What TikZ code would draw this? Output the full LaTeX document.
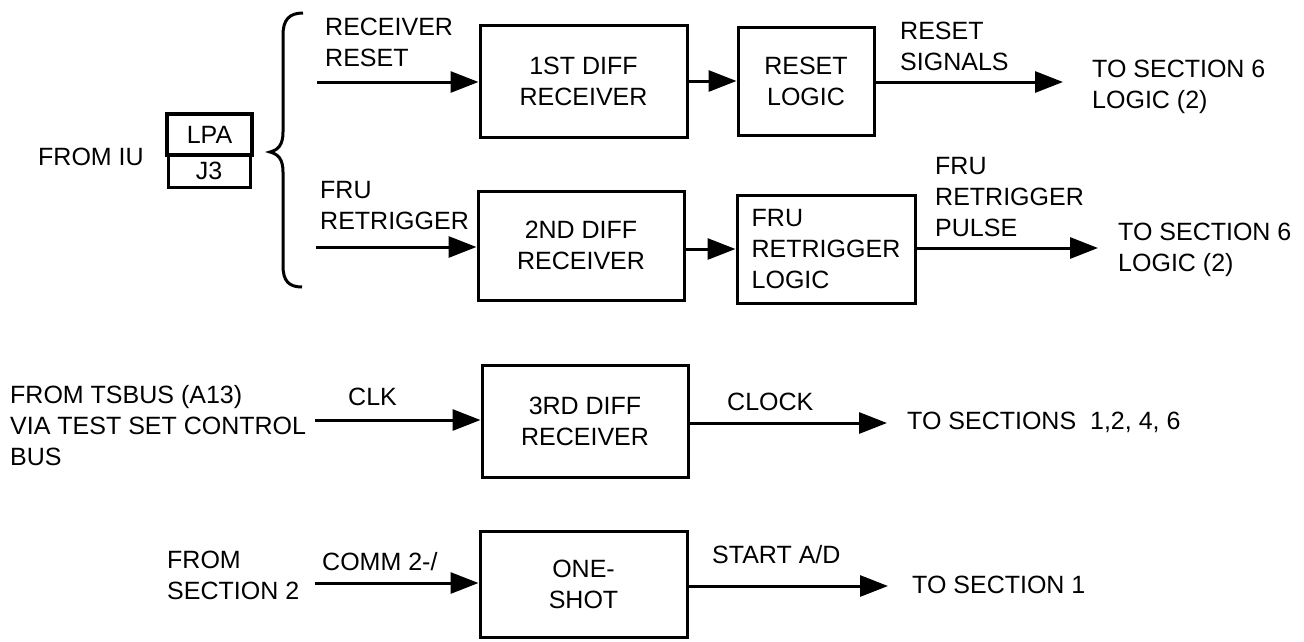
\documentclass[tikz,border=0pt]{standalone}
\usepackage{fontspec}
\setmainfont{Liberation Sans}
\usetikzlibrary{arrows.meta}
\tikzset{
  blk/.style={draw, line width=3pt, align=center, inner sep=0pt},
  arr/.style={line width=3pt, -{Triangle[length=28pt,width=21pt]}},
  lbl/.style={anchor=west, align=left, inner sep=0pt},
}

\begin{document}
\begin{tikzpicture}[x=1pt, y=-1pt, font=\fontsize{25}{31}\selectfont]
  \useasboundingbox (0,0) rectangle (1304,641);
  \node[lbl] (fromiu) at (38,157) {FROM IU};
  \node[blk, line width=4pt, minimum width=85pt, minimum height=41pt] (lpa) at (209.5,134.5) {LPA};
  \node[blk, minimum width=82pt, minimum height=32pt] (jthree) at (209,171) {J3};
  \draw[line width=3pt] (303,13) .. controls (289,13) and (283,20) .. (283,35) -- (283,132)
    .. controls (283,145) and (278,150) .. (270,152) .. controls (278,154) and (283,159) .. (283,172)
    -- (283,266) .. controls (283,281) and (289,287) .. (302,287);
  \node[blk, minimum width=207pt, minimum height=112pt] (rxa) at (583.5,81) {1ST DIFF\\RECEIVER};
  \node[blk, minimum width=136pt, minimum height=108pt] (rlog) at (806,81) {RESET\\LOGIC};
  \node[blk, minimum width=206pt, minimum height=109pt] (rxb) at (581,245.5) {2ND DIFF\\RECEIVER};
  \node[blk, align=left, minimum width=178pt, minimum height=108pt] (frulog) at (826,249) {FRU\\RETRIGGER\\LOGIC};
  \node[blk, minimum width=206pt, minimum height=112pt] (rxc) at (585,421) {3RD DIFF\\RECEIVER};
  \node[blk, minimum width=207pt, minimum height=106pt] (oneshot) at (583.5,584) {ONE-\\SHOT};
  \node[lbl] (rcvrst) at (325,42) {RECEIVER\\RESET};
  \node[lbl] (frurtg) at (320,206) {FRU\\RETRIGGER};
  \node[lbl] (rstsig) at (900,46.5) {RESET\\SIGNALS};
  \node[lbl] (frupls) at (935,197.5) {FRU\\RETRIGGER\\PULSE};
  \node[lbl] (toseca) at (1092,87) {TO SECTION 6\\LOGIC (2)};
  \node[lbl] (tosecb) at (1118,250) {TO SECTION 6\\LOGIC (2)};
  \node[lbl] (tsbus) at (10,426) {FROM TSBUS (A13)\\VIA TEST SET CONTROL\\BUS};
  \node[lbl] (clk) at (348,397) {CLK};
  \node[lbl] (clock) at (727,402) {CLOCK};
  \node[lbl] (tosecs) at (907,422) {TO SECTIONS\ \ 1,2, 4, 6};
  \node[lbl] (fromsec) at (167,575) {FROM\\SECTION 2};
  \node[lbl] (comm) at (322,562) {COMM 2-/};
  \node[lbl] (startad) at (712,555) {START A/D};
  \node[lbl] (tosecd) at (912,585) {TO SECTION 1};
  \coordinate (ina) at (317,82);
  \coordinate (inb) at (316,247);
  \coordinate (inc) at (315,420);
  \coordinate (ind) at (315,583);
  \coordinate (outa) at (1063,82);
  \coordinate (outb) at (1098,248);
  \coordinate (outc) at (887,423);
  \coordinate (outd) at (888,586);
  \draw[arr] (ina) -- (ina -| rxa.west);
  \draw[arr] (rxa) -- (rlog);
  \draw[arr] (rlog.east |- outa) -- (outa);
  \draw[arr] (inb) -- (inb -| rxb.west);
  \draw[arr] (rxb.east |- frulog) -- (frulog.west);
  \draw[arr] (frulog.east |- outb) -- (outb);
  \draw[arr] (inc) -- (inc -| rxc.west);
  \draw[arr] (rxc.east |- outc) -- (outc);
  \draw[arr] (ind) -- (ind -| oneshot.west);
  \draw[arr] (oneshot.east |- outd) -- (outd);
\end{tikzpicture}
\end{document}
